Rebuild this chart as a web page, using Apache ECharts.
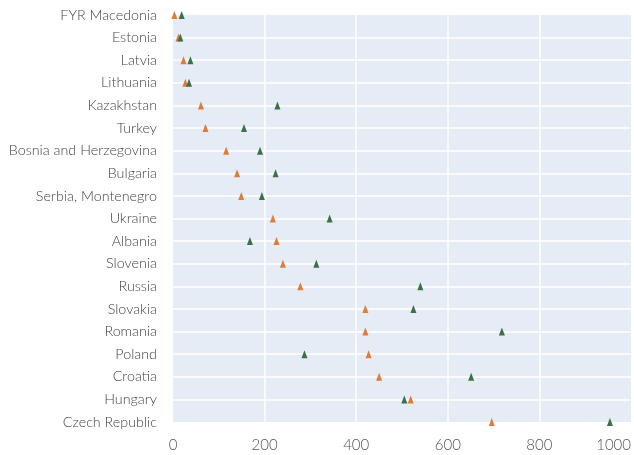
<!DOCTYPE html>
<html>
<head>
<meta charset="utf-8">
<script src="https://cdn.jsdelivr.net/npm/echarts@6/dist/echarts.min.js"></script>
<style>html,body{margin:0;padding:0;background:#fff}#c{width:634px;height:455px}</style>
</head>
<body>
<div id="c"></div>
<script>
const categories = ["FYR Macedonia","Estonia","Latvia","Lithuania","Kazakhstan","Turkey","Bosnia and Herzegovina","Bulgaria","Serbia, Montenegro","Ukraine","Albania","Slovenia","Russia","Slovakia","Romania","Poland","Croatia","Hungary","Czech Republic"];
const orangeValues = [3,12,23,27,61,71,116,140,149,218,226,240,278,420,420,427,450,519,696];
const greenValues = [19,16,38,35,228,155,190,224,194,342,168,313,540,525,718,287,651,505,954];
const xTicks = [0,200,400,600,800,1000];

const font = 'Lato, "Noto Sans", sans-serif';
const chart = echarts.init(document.getElementById('c'), null, {renderer:'canvas'});
chart.setOption({
  animation:false,
  backgroundColor:'#fff',
  grid:{left:173, right:-2, top:15, bottom:33, containLabel:false, show:true, backgroundColor:'#E5ECF6', borderWidth:0},
  xAxis:{
    type:'value', min:xTicks[0], max:xTicks[xTicks.length-1], interval:200,
    axisLine:{show:false}, axisTick:{show:false},
    axisLabel:{color:'#555', fontFamily:font, fontWeight:300, fontSize:15, margin:16, alignMaxLabel:'right', formatter:v=>String(v)},
    splitLine:{show:true, showMinLine:false, showMaxLine:false, lineStyle:{color:'#ffffff', width:1.5}}
  },
  yAxis:{
    type:'category', data:categories, inverse:true, boundaryGap:false,
    axisLine:{show:false}, axisTick:{show:false},
    axisLabel:{color:'#444', fontFamily:font, fontWeight:300, fontSize:14.3, margin:16, verticalAlign:'middle', padding:[3,0,0,0], interval:0},
    splitLine:{show:true, showMinLine:false, showMaxLine:false, lineStyle:{color:'#ffffff', width:1.5}}
  },
  series:[
    {name:'Series 1', type:'scatter', symbol:'triangle', symbolSize:[6,8], itemStyle:{color:'#E07B39', opacity:1},
     data:orangeValues.map((v,i)=>[v,categories[i]]), clip:false, z:3},
    {name:'Series 2', type:'scatter', symbol:'triangle', symbolSize:[6,8], itemStyle:{color:'#3A7148', opacity:1},
     data:greenValues.map((v,i)=>[v,categories[i]]), clip:false, z:4}
  ]
});
</script>
</body>
</html>
